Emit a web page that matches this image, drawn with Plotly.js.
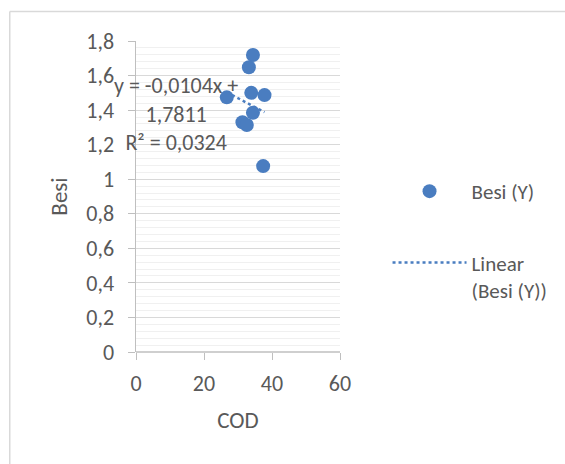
<!DOCTYPE html>
<html>
<head>
<meta charset="utf-8">
<script src="https://cdn.plot.ly/plotly-3.0.1.min.js"></script>
<style>
html,body{margin:0;padding:0;background:#fff;}
#chart{width:565px;height:464px;}
</style>
</head>
<body>
<div id="chart"></div>
<script>
// Data
const cod = [34.4, 33.2, 26.7, 33.9, 37.8, 34.4, 31.3, 32.6, 37.4];
const besi = [1.719, 1.648, 1.474, 1.500, 1.487, 1.385, 1.330, 1.314, 1.076];
const seriesName = "Besi (Y)";
const trendName = "Linear<br>(Besi (Y))";
const trendSlope = -0.0104;
const trendIntercept = 1.7811;
const trendR2 = 0.0324;
const xTicks = [0, 20, 40, 60];
const yTicks = [0, 0.2, 0.4, 0.6, 0.8, 1, 1.2, 1.4, 1.6, 1.8];

const blue = "#4a7dc0";
const txt = "#595959";
const FONT = "Carlito, Calibri, Lato, sans-serif";

const xMin = Math.min(...cod), xMax = Math.max(...cod);
const trendX = [xMin, xMax];
const trendY = trendX.map(x => trendSlope * x + trendIntercept);

const fmt = (v, d) => v.toFixed(d).replace('.', ',');
const eqText = "y = " + fmt(trendSlope, 4) + "x +<br>" + fmt(trendIntercept, 4) + "<br>R² = " + fmt(trendR2, 4);

// pixel helpers for frame shape (plot area: x 136..342, y 41..352)
const L = 136, R = 342, T = 41, B = 352;
const px = v => (v - L) / (R - L);
const py = v => (B - v) / (B - T);

const traces = [
  {
    x: cod, y: besi, type: "scatter", mode: "markers", name: seriesName,
    marker: {color: blue, size: 14},
    legendgroup: "a", cliponaxis: false
  },
  {
    x: trendX, y: trendY, type: "scatter", mode: "lines", name: trendName,
    line: {color: blue, dash: "dot", width: 2.5},
    legendgroup: "b"
  }
];

const layout = {
  width: 565, height: 464,
  margin: {l: L, r: 565 - R, t: T, b: 464 - B},
  paper_bgcolor: "#fff", plot_bgcolor: "#fff",
  separators: ",.",
  font: {family: FONT, color: txt, size: 22},
  showlegend: true,
  legend: {
    x: px(390), y: py(171), xanchor: "left", yanchor: "top",
    font: {family: FONT, color: txt, size: 21},
    itemwidth: 74, valign: "top", tracegroupgap: 41,
    bgcolor: "rgba(0,0,0,0)"
  },
  xaxis: {
    range: [0, 60], tickvals: xTicks, ticks: "outside", ticklen: 7,
    tickcolor: "#bfbfbf", showline: false, showgrid: false, zeroline: false,
    tickfont: {family: FONT, color: txt, size: 22},
    ticklabelstandoff: 5,
    title: {text: "COD", font: {family: FONT, color: txt, size: 23}, standoff: 15},
    fixedrange: true
  },
  yaxis: {
    range: [0, 1.8], tickvals: yTicks, ticks: "outside", ticklen: 7,
    tickcolor: "#bfbfbf", showline: true, linecolor: "#bfbfbf", linewidth: 1.5,
    showgrid: true, gridcolor: "#d9d9d9", gridwidth: 1, zeroline: false,
    minor: {dtick: 0.04, tick0: 0, showgrid: true, gridcolor: "#f0f0f0", gridwidth: 1, ticks: ""},
    tickfont: {family: FONT, color: txt, size: 22},
    ticklabelstandoff: 9,
    title: {text: "Besi", font: {family: FONT, color: txt, size: 23}, standoff: 12},
    fixedrange: true
  },
  shapes: [
    {type: "line", xref: "paper", yref: "paper", x0: 0, x1: 1, y0: 0, y1: 0,
     line: {color: "#bfbfbf", width: 1.5}},
    {type: "line", xref: "paper", yref: "paper", x0: px(8.5), x1: px(570), y0: py(11.5), y1: py(11.5),
     line: {color: "#d9d9d9", width: 1.5}},
    {type: "line", xref: "paper", yref: "paper", x0: px(8.5), x1: px(8.5), y0: py(11.5), y1: py(470),
     line: {color: "#d9d9d9", width: 1.5}}
  ],
  annotations: [
    {xref: "paper", yref: "paper", x: px(176), y: py(114), xanchor: "center", yanchor: "middle",
     text: eqText, showarrow: false, align: "center",
     font: {family: FONT, color: txt, size: 22}}
  ]
};

Plotly.newPlot("chart", traces, layout, {displayModeBar: false, staticPlot: true});
</script>
</body>
</html>
